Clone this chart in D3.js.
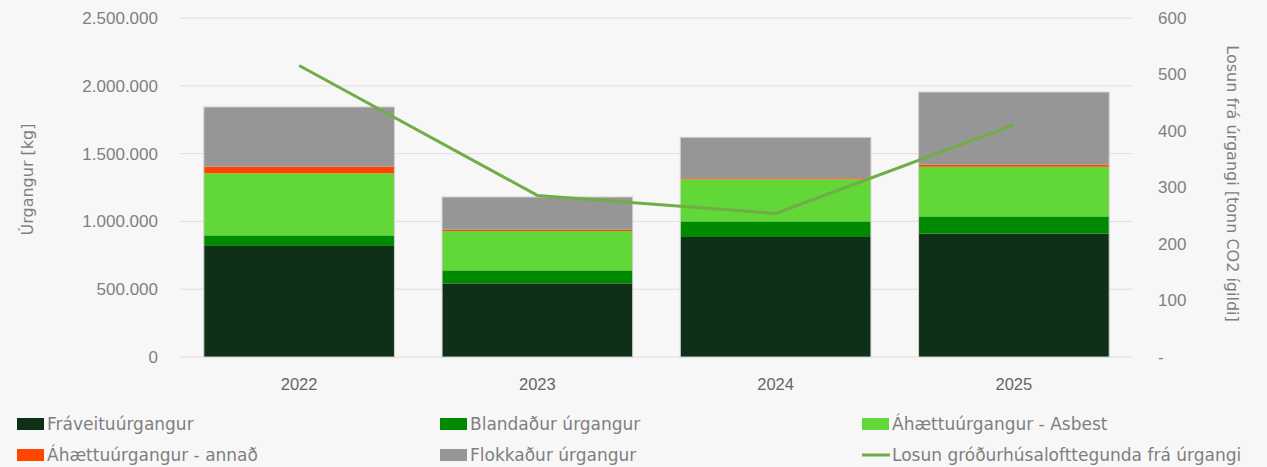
<!DOCTYPE html>
<html>
<head>
<meta charset="utf-8">
<script src="https://cdn.jsdelivr.net/npm/d3@7"></script>
<style>
  body { margin: 0; background: #f7f7f7; }
  svg { display: block; font-family: "DejaVu Sans", sans-serif; }
</style>
</head>
<body>
<svg id="chart"></svg>
<script>
// years on the x axis
const years = ["2022", "2023", "2024", "2025"];

// waste per category [kg]
const fraveitu = [819000, 543000, 885000, 911000];
const blandadur = [78000, 96000, 115000, 126000];
const asbest = [457000, 290000, 310000, 366000];
const annad = [49000, 10000, 8000, 15000];
const flokkadur = [441000, 241000, 302000, 536000];

// emissions [tonn CO2 ígildi]
const losun = [516, 286, 254, 411];

const seriesNames = [
  "Fráveituúrgangur",
  "Blandaður úrgangur",
  "Áhættuúrgangur - Asbest",
  "Áhættuúrgangur - annað",
  "Flokkaður úrgangur"
];
const seriesColors = ["#0f3016", "#008a00", "#62d838", "#ff4500", "#969696"];
const lineName = "Losun gróðurhúsalofttegunda frá úrgangi";
const lineColor = "#70ad47";

const leftTicks = [0, 500000, 1000000, 1500000, 2000000, 2500000];
const rightTicks = [0, 100, 200, 300, 400, 500, 600];

const width = 1267, height = 467;
const margin = { left: 180, right: 134, top: 18, bottom: 110 };
const textColor = "#7f7f7f";

const svg = d3.select("#chart").attr("width", width).attr("height", height);

// Build a table from the arrays for stacking
const rows = years.map((y, i) => ({
  year: y,
  s0: fraveitu[i], s1: blandadur[i], s2: asbest[i], s3: annad[i], s4: flokkadur[i]
}));
const keys = ["s0", "s1", "s2", "s3", "s4"];
const stacked = d3.stack().keys(keys)(rows);

const x = d3.scaleBand()
  .domain(years)
  .range([margin.left, width - margin.right])
  .paddingInner(0.2)
  .paddingOuter(0.1);

const y = d3.scaleLinear()
  .domain([0, 2500000])
  .range([height - margin.bottom, margin.top]);

const y2 = d3.scaleLinear()
  .domain([0, 600])
  .range([height - margin.bottom, margin.top]);

const de = d3.formatLocale({ decimal: ",", thousands: ".", grouping: [3], currency: ["", " kr"] });
const fmt = de.format(",.0f");

// gridlines
svg.append("g")
  .selectAll("line")
  .data(leftTicks)
  .join("line")
  .attr("x1", margin.left)
  .attr("x2", width - margin.right)
  .attr("y1", d => y(d))
  .attr("y2", d => y(d))
  .attr("stroke", "#dedede")
  .attr("stroke-width", 1);

// left axis
const gL = svg.append("g")
  .attr("transform", `translate(${margin.left - 19},0)`)
  .call(d3.axisLeft(y).tickValues(leftTicks).tickFormat(fmt).tickSize(0));
gL.select(".domain").remove();
gL.selectAll("text").attr("fill", textColor).style("font-size", "17px");

// right axis
const gR = svg.append("g")
  .attr("transform", `translate(${width - margin.right + 25},0)`)
  .call(d3.axisRight(y2).tickValues(rightTicks).tickFormat(d => d === 0 ? "-" : d).tickSize(0));
gR.select(".domain").remove();
gR.selectAll("text").attr("fill", textColor).style("font-size", "17px").attr("x", 0);

// x axis
const gX = svg.append("g")
  .attr("transform", `translate(0,${height - margin.bottom + 18})`)
  .call(d3.axisBottom(x).tickSize(0));
gX.select(".domain").remove();
gX.selectAll("text").attr("fill", "#666").style("font-size", "16.5px").attr("dy", "0.71em");

// axis titles
svg.append("text")
  .attr("transform", `translate(33,${(y(0) + y(2500000)) / 2 - 8}) rotate(-90)`)
  .attr("text-anchor", "middle")
  .attr("fill", textColor)
  .style("font-size", "16px")
  .text("Úrgangur [kg]");

svg.append("text")
  .attr("transform", `translate(1227,${(y(0) + y(2500000)) / 2 - 4}) rotate(90)`)
  .attr("text-anchor", "middle")
  .attr("fill", textColor)
  .style("font-size", "16px")
  .text("Losun frá úrgangi [tonn CO2 ígildi]");

// bars
svg.append("g")
  .selectAll("g")
  .data(stacked)
  .join("g")
  .attr("fill", (d, i) => seriesColors[i])
  .selectAll("rect")
  .data(d => d)
  .join("rect")
  .attr("x", d => x(d.data.year))
  .attr("width", x.bandwidth())
  .attr("y", d => y(d[1]))
  .attr("height", d => y(d[0]) - y(d[1]));

// light outline round each bar
svg.append("g")
  .selectAll("rect")
  .data(rows)
  .join("rect")
  .attr("x", d => x(d.year))
  .attr("width", x.bandwidth())
  .attr("y", d => y(d.s0 + d.s1 + d.s2 + d.s3 + d.s4))
  .attr("height", d => y(0) - y(d.s0 + d.s1 + d.s2 + d.s3 + d.s4))
  .attr("fill", "none")
  .attr("stroke", "#d0d0d0")
  .attr("stroke-width", 1);

// emission line
const line = d3.line()
  .x((d, i) => x(years[i]) + x.bandwidth() / 2)
  .y(d => y2(d));

svg.append("path")
  .datum(losun)
  .attr("d", line)
  .attr("fill", "none")
  .attr("stroke", lineColor)
  .attr("stroke-width", 3)
  .attr("stroke-linejoin", "round");

// legend
const legendItems = [
  { name: seriesNames[0], color: seriesColors[0], type: "rect", col: 0, row: 0 },
  { name: seriesNames[1], color: seriesColors[1], type: "rect", col: 1, row: 0 },
  { name: seriesNames[2], color: seriesColors[2], type: "rect", col: 2, row: 0 },
  { name: seriesNames[3], color: seriesColors[3], type: "rect", col: 0, row: 1 },
  { name: seriesNames[4], color: seriesColors[4], type: "rect", col: 1, row: 1 },
  { name: lineName, color: lineColor, type: "line", col: 2, row: 1 }
];
const colX = [17, 440, 862];
const rowY = [424, 455];

const lg = svg.append("g")
  .selectAll("g")
  .data(legendItems)
  .join("g")
  .attr("transform", d => `translate(${colX[d.col]},${rowY[d.row]})`);

lg.filter(d => d.type === "rect")
  .append("rect")
  .attr("x", 0).attr("y", -6)
  .attr("width", 27).attr("height", 12)
  .attr("fill", d => d.color);

lg.filter(d => d.type === "line")
  .append("line")
  .attr("x1", 0).attr("x2", 28)
  .attr("y1", 0).attr("y2", 0)
  .attr("stroke", d => d.color)
  .attr("stroke-width", 3);

lg.append("text")
  .attr("x", 30)
  .attr("y", 0)
  .attr("dy", "0.35em")
  .attr("fill", textColor)
  .style("font-size", "17px")
  .text(d => d.name);
</script>
</body>
</html>
